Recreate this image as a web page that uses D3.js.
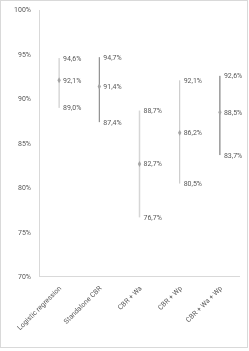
<!DOCTYPE html>
<html lang="en">

<head>
    <meta charset="UTF-8">
    <script src="https://d3js.org/d3.v7.min.js"></script>
    <title>ranges</title>
    <style>
        body { margin: 0; background: #fff; }
        svg { will-change: transform; }
        text { font-family: Roboto, "Liberation Sans", sans-serif; fill: #595959; }
    </style>
</head>

<body>
    <script>
        var w = 249,
            h = 351;

        // data
        var categories = ["Logistic regression", "Standalone CBR", "CBR + Wa", "CBR + Wp", "CBR + Wa + Wp"];
        var highs = [94.6, 94.7, 88.7, 92.1, 92.6];
        var mids = [92.1, 91.4, 82.7, 86.2, 88.5];
        var lows = [89.0, 87.4, 76.7, 80.5, 83.7];
        var yTicks = [70, 75, 80, 85, 90, 95, 100];
        var lineColors = ["#c3c3c3", "#7a7a7a", "#d6d6d6", "#c3c3c3", "#666666"];

        var svg = d3.select("body").append("svg")
            .attr("width", w)
            .attr("height", h);

        // outer border
        svg.append("rect")
            .attr("x", 0.5).attr("y", 0.5)
            .attr("width", 247).attr("height", 347)
            .attr("fill", "#fff")
            .attr("stroke", "#d9d9d9");

        var x = d3.scaleBand().domain(categories).range([39, 240]);
        var y = d3.scaleLinear().domain([70, 100]).range([277, 10]);

        // axis lines
        svg.append("line")
            .attr("x1", 39.5).attr("x2", 39.5)
            .attr("y1", y(100)).attr("y2", y(70))
            .attr("stroke", "#d9d9d9");
        svg.append("line")
            .attr("x1", 39).attr("x2", 240)
            .attr("y1", y(70) - 0.5).attr("y2", y(70) - 0.5)
            .attr("stroke", "#d9d9d9");

        // y labels
        svg.selectAll(".ytick").data(yTicks).enter().append("text")
            .attr("class", "ytick")
            .attr("x", 31)
            .attr("y", function(d) { return y(d); })
            .attr("dy", "0.35em")
            .attr("text-anchor", "end")
            .style("font-size", "7px")
            .text(function(d) { return d + "%"; });

        // x labels (rotated)
        svg.selectAll(".xtick").data(categories).enter().append("text")
            .attr("class", "xtick")
            .attr("transform", function(d) {
                return "translate(" + (x(d) + x.bandwidth() / 2 + 1) + "," + 287 + ") rotate(-45)";
            })
            .attr("text-anchor", "end")
            .attr("dy", "0.35em")
            .style("font-size", "7px")
            .text(function(d) { return d; });

        var cx = function(i) { return x(categories[i]) + x.bandwidth() / 2; };

        // range lines
        svg.selectAll(".rng").data(highs).enter().append("line")
            .attr("class", "rng")
            .attr("x1", function(d, i) { return cx(i); })
            .attr("x2", function(d, i) { return cx(i); })
            .attr("y1", function(d) { return y(d); })
            .attr("y2", function(d, i) { return y(lows[i]); })
            .attr("stroke", function(d, i) { return lineColors[i]; })
            .attr("stroke-width", function(d, i) { return i == 2 ? 1.5 : 1; });

        // mid markers
        svg.selectAll(".mk").data(mids).enter().append("path")
            .attr("class", "mk")
            .attr("transform", function(d, i) { return "translate(" + cx(i) + "," + y(d) + ")"; })
            .attr("d", d3.symbol().type(d3.symbolDiamond).size(10))
            .attr("fill", "#a5a5a5");

        // labels
        var all = [];
        [highs, mids, lows].forEach(function(arr) {
            arr.forEach(function(v, i) { all.push({ v: v, i: i }); });
        });
        svg.selectAll(".lbl").data(all).enter().append("text")
            .attr("class", "lbl")
            .attr("x", function(d) { return cx(d.i) + 4; })
            .attr("y", function(d) { return y(d.v); })
            .attr("dy", "0.35em")
            .style("font-size", "7px")
            .text(function(d) { return d.v.toFixed(1).replace(".", ",") + "%"; });
    </script>
</body>

</html>
